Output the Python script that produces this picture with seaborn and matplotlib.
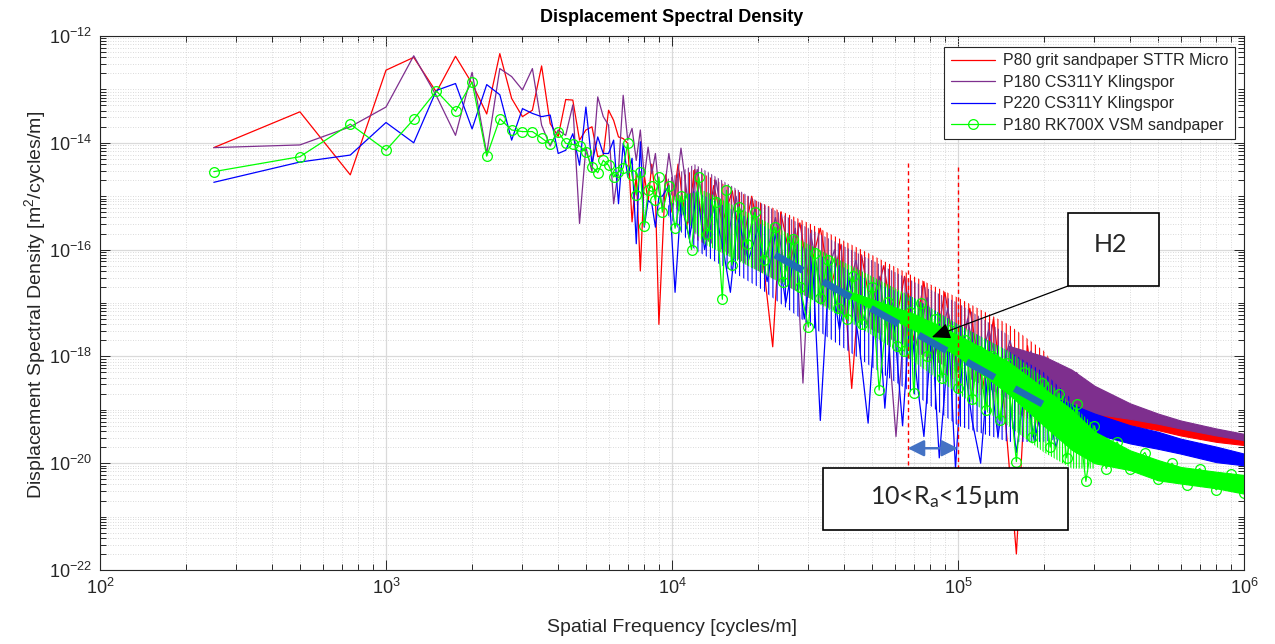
import numpy as np
import matplotlib
matplotlib.use("Agg")
import matplotlib.pyplot as plt
import seaborn as sns
from matplotlib.ticker import FixedLocator, LogLocator, LogFormatterSciNotation, NullFormatter
from matplotlib.patches import Rectangle

# ---------------------------------------------------------------- data
series_names = ["P80 grit sandpaper STTR Micro", "P180 CS311Y Klingspor",
                "P220 CS311Y Klingspor", "P180 RK700X VSM sandpaper"]
series_colors = ["#FF0000", "#7E2F8E", "#0000FF", "#00FF00"]

# low-frequency bins (cycles/m)
freq_low = [250, 500, 750, 1000, 1250, 1500, 1750, 2000, 2250, 2500, 2750, 3000,
            3250, 3500, 3750, 4000, 4250, 4500, 4750, 5000, 5250, 5500, 5750, 6000,
            6250, 6500, 6750, 7000, 7250, 7500, 7750, 8000, 8250, 8500, 8750, 9000]

# log10 of PSD [m^2/cycles/m]
red_low_log = [-14.09, -13.42, -14.60, -12.64, -12.40, -13.05, -12.38, -12.89, -13.46, -12.33,
               -13.17, -13.51, -13.39, -12.56, -13.64, -13.88, -13.19, -13.20, -13.95, -13.76,
               -13.70, -14.26, -14.23, -13.39, -13.58, -13.89, -13.92, -14.01, -15.48, -14.58,
               -16.40, -14.60, -15.10, -14.40, -15.00, -17.40]
purple_low_log = [-14.09, -14.04, -13.70, -13.33, -12.37, -13.12, -13.86, -12.68, -14.20, -12.61,
                  -12.76, -13.01, -12.61, -13.67, -14.06, -13.76, -13.86, -13.29, -15.51, -14.08,
                  -14.54, -13.14, -13.51, -13.67, -15.14, -14.51, -13.11, -13.95, -13.73, -14.33,
                  -13.76, -14.64, -14.08, -14.58, -14.20, -14.90]
blue_low_log = [-14.74, -14.36, -14.23, -13.62, -14.00, -13.02, -12.89, -13.74, -12.91, -13.10,
                -13.95, -13.36, -13.45, -13.51, -13.48, -14.20, -14.14, -13.83, -14.42, -13.33,
                -14.39, -13.89, -14.20, -14.20, -13.95, -15.14, -14.01, -14.64, -14.29, -15.89,
                -13.98, -15.58, -15.08, -15.14, -15.58, -15.01]
green_low_log = [-14.54, -14.26, -13.65, -14.14, -13.56, -13.03, -13.41, -12.86, -14.25, -13.55,
                 -13.76, -13.79, -13.79, -13.91, -14.03, -13.79, -14.01, -14.03, -14.06, -14.17,
                 -14.45, -14.56, -14.33, -14.42, -14.64, -14.54, -14.47, -14.01, -14.61, -14.98,
                 -14.54, -15.56, -14.89, -14.81, -15.08, -14.64]

# higher-frequency peaks / troughs
red_mid_freq = [9500, 10000, 10500, 11250, 12000, 13000, 14000, 15000, 16250, 17500,
                19000, 20500, 22500, 24000, 26000, 28000, 30000, 33000, 36000, 39000,
                42500, 46000, 50000, 55000, 60000, 65000, 70000, 76000, 82000, 90000,
                100000, 110000, 122000, 133000, 145000, 160000, 175000, 190000, 210000, 230000,
                255000, 280000, 310000, 350000, 420000, 500000, 600000, 750000, 1000000]
red_mid_log = [-14.6, -15.3, -14.4, -15.6, -14.5, -15.8, -14.8, -15.5, -14.9, -16.0,
               -15.0, -15.9, -17.82, -15.3, -16.2, -15.5, -16.5, -15.6, -16.7, -15.9,
               -18.6, -16.1, -17.2, -16.3, -17.5, -16.5, -17.7, -16.6, -18.0, -16.8,
               -18.3, -17.1, -18.6, -17.3, -18.9, -21.7, -17.8, -19.3, -18.2, -19.2,
               -18.6, -19.1, -18.9, -19.1, -19.2, -19.3, -19.4, -19.5, -19.6]

purple_mid_freq = [9250, 9750, 10250, 10750, 11500, 12250, 13250, 14250, 15500, 16750,
                   18000, 19500, 21000, 23000, 25000, 27000, 28700, 30500, 33500, 37000,
                   40000, 44000, 48000, 53000, 57000, 60700, 66000, 72000, 78000, 85000,
                   92000, 100000, 108000, 118000, 128000, 140000, 152000, 165000, 180000, 195000,
                   215000, 235000, 260000, 285000, 310000, 335000, 365000, 400000, 450000, 500000,
                   600000, 700000, 850000, 1000000]
purple_mid_log = [-15.2, -14.2, -15.0, -14.1, -15.3, -14.5, -15.6, -14.7, -15.9, -15.0,
                  -16.1, -15.2, -16.3, -15.4, -16.4, -15.6, -18.5, -15.7, -16.8, -16.0,
                  -17.0, -16.2, -17.4, -16.5, -17.6, -19.5, -16.8, -17.8, -16.9, -18.0,
                  -17.1, -18.2, -17.3, -18.3, -17.5, -18.4, -17.7, -18.5, -17.9, -18.6,
                  -18.1, -18.7, -18.3, -18.9, -18.6, -19.0, -18.8, -19.1, -19.0, -19.2,
                  -19.25, -19.4, -19.4, -19.5]

blue_mid_freq = [9250, 9750, 10250, 10750, 11500, 12250, 13000, 14000, 15000, 16000,
                 17000, 18500, 20000, 21500, 23000, 25000, 27000, 29000, 31000, 33000,
                 35500, 38500, 41500, 45000, 48500, 52000, 55500, 59000, 64000, 68000,
                 72000, 76000, 81000, 86000, 93000, 98000, 104000, 112000, 120000, 128000,
                 138000, 148000, 160000, 172000, 185000, 200000, 220000, 240000, 265000, 290000,
                 320000, 360000, 420000, 500000, 600000, 750000, 1000000]
blue_mid_log = [-15.0, -14.8, -16.8, -15.1, -15.8, -14.9, -16.0, -15.2, -15.9, -16.8,
                -15.4, -16.2, -15.6, -16.6, -15.7, -17.0, -16.0, -17.3, -16.2, -19.2,
                -16.3, -17.5, -16.5, -17.7, -19.25, -16.7, -18.97, -17.0, -19.3, -17.2,
                -18.5, -19.5, -17.5, -19.9, -17.7, -20.1, -17.9, -19.2, -20.0, -18.1,
                -19.5, -18.3, -19.8, -18.5, -19.6, -18.7, -19.7, -18.9, -19.5, -19.1,
                -19.4, -19.25, -19.55, -19.5, -19.75, -19.8, -19.95]

green_mid_freq = [9250, 9750, 10250, 10750, 11700, 12400, 13300, 14200, 15000, 15500,
                  16200, 17200, 18300, 19500, 21000, 22900, 24500, 26500, 28000, 30000,
                  31500, 33000, 35000, 38000, 41000, 43000, 46000, 50000, 53000, 57000,
                  61000, 65000, 68000, 70000, 74000, 78000, 83000, 88000, 94000, 100000,
                  106000, 112000, 118000, 125000, 132000, 140000, 148000, 160000, 170000, 182000,
                  197000, 210000, 225000, 240000, 260000, 280000, 300000, 330000, 360000, 400000,
                  450000, 500000, 560000, 630000, 700000, 800000, 900000, 1000000]
green_mid_log = [-15.3, -14.8, -15.6, -15.0, -16.0, -14.64, -15.7, -15.1, -16.93, -14.89,
                 -16.29, -15.2, -15.9, -15.3, -16.2, -15.58, -16.6, -15.8, -16.7, -17.45,
                 -16.07, -16.9, -16.2, -17.1, -17.3, -16.5, -17.4, -16.7, -18.63, -16.98,
                 -17.8, -17.9, -17.17, -18.69, -17.0, -18.0, -17.3, -18.4, -17.5, -18.6,
                 -17.7, -18.8, -17.9, -19.0, -18.0, -19.2, -18.13, -19.97, -18.3, -19.5,
                 -18.5, -19.7, -18.7, -19.9, -18.9, -20.34, -19.3, -20.1, -19.6, -20.1,
                 -19.8, -20.3, -20.0, -20.4, -20.1, -20.5, -20.2, -20.55]

# extent of the dense spikes (log10 upper / lower edge), mid frequencies
red_spread_freq = [9500, 12000, 20000, 30000, 50000, 70000, 100000, 150000, 200000, 250000]
red_spread_hi = [-14.8, -14.5, -15.1, -15.5, -16.1, -16.5, -16.9, -17.4, -17.9, -18.6]
red_spread_lo = [-14.9, -15.8, -16.4, -16.9, -17.5, -17.9, -18.5, -19.0, -19.3, -19.2]
purple_spread_freq = [9500, 12000, 20000, 30000, 50000, 70000, 100000, 150000]
purple_spread_hi = [-14.7, -14.4, -15.1, -15.6, -16.2, -16.6, -17.0, -17.6]
purple_spread_lo = [-14.8, -15.7, -16.4, -16.9, -17.5, -17.9, -18.3, -18.8]
blue_spread_freq = [9500, 12000, 20000, 30000, 50000, 70000, 100000, 150000, 200000, 250000]
blue_spread_hi = [-15.2, -14.9, -15.5, -16.0, -16.6, -16.9, -17.4, -17.9, -18.3, -18.8]
blue_spread_lo = [-15.3, -16.0, -16.7, -17.4, -18.2, -18.7, -19.3, -19.6, -19.6, -19.5]
green_spread_freq = [10000, 13000, 20000, 30000, 50000, 70000, 100000, 150000, 200000, 250000, 300000]
green_spread_hi = [-15.0, -14.9, -15.4, -15.9, -16.5, -16.9, -17.4, -17.9, -18.4, -18.9, -19.3]
green_spread_lo = [-15.1, -15.9, -16.4, -16.9, -17.6, -18.1, -18.7, -19.3, -19.8, -20.1, -20.1]

# solid-looking cores (log10 upper / lower edge), high frequencies
red_band_freq = [250000, 300000, 400000, 500000, 600000, 800000, 1000000]
red_band_hi = [-18.9, -19.0, -19.1, -19.2, -19.29, -19.41, -19.51]
red_band_lo = [-19.1, -19.15, -19.29, -19.38, -19.48, -19.60, -19.66]
purple_band_freq = [150000, 200000, 250000, 300000, 400000, 500000, 600000, 800000, 1000000]
purple_band_hi = [-17.8, -18.0, -18.25, -18.55, -18.88, -19.07, -19.20, -19.35, -19.45]
purple_band_lo = [-18.6, -18.8, -19.0, -19.07, -19.17, -19.26, -19.35, -19.48, -19.57]
blue_band_freq = [200000, 250000, 300000, 400000, 500000, 600000, 800000, 1000000]
blue_band_hi = [-18.7, -18.9, -19.07, -19.29, -19.41, -19.54, -19.69, -19.82]
blue_band_lo = [-19.3, -19.45, -19.45, -19.63, -19.73, -19.82, -19.98, -20.04]
green_band_freq = [40000, 70000, 100000, 150000, 200000, 250000, 300000,
                   400000, 500000, 600000, 800000, 1000000]
green_band_hi = [-16.75, -17.2, -17.6, -18.1, -18.6, -19.0, -19.41,
                 -19.76, -19.94, -20.07, -20.16, -20.22]
green_band_lo = [-16.85, -17.5, -18.0, -18.7, -19.3, -19.75, -20.0,
                 -20.13, -20.32, -20.38, -20.47, -20.57]

# annotations
h2_freq = [22914, 206400]
h2_log = [-16.10, -18.95]
ra_freq = [66667, 100000]
ra_top_log = [-14.38, -14.45]
ra_bottom_log = [-20.03, -21.31]
ra_arrow_log = -19.72
h2_tip = (81000, -17.64)

# ---------------------------------------------------------------- style
sns.set_style("ticks")
plt.rcParams["font.family"] = ["Liberation Sans", "DejaVu Sans"]
plt.rcParams["mathtext.default"] = "regular"
plt.rcParams["axes.unicode_minus"] = False
plt.rcParams["hatch.linewidth"] = 0.8

W, H = 1275, 644
fig = plt.figure(figsize=(W / 100, H / 100), dpi=100)
fig.patch.set_facecolor("white")
L, R, T, B = 100, 1244, 36, 570
ax = fig.add_axes([L / W, 1 - B / H, (R - L) / W, (B - T) / H])
ax.set_facecolor("white")
ax.set_xscale("log")
ax.set_yscale("log")

lows = [red_low_log, purple_low_log, blue_low_log, green_low_log]
mids_f = [red_mid_freq, purple_mid_freq, blue_mid_freq, green_mid_freq]
mids_y = [red_mid_log, purple_mid_log, blue_mid_log, green_mid_log]
spreads = [(red_spread_freq, red_spread_hi, red_spread_lo),
           (purple_spread_freq, purple_spread_hi, purple_spread_lo),
           (blue_spread_freq, blue_spread_hi, blue_spread_lo),
           (green_spread_freq, green_spread_hi, green_spread_lo)]
bands = [(red_band_freq, red_band_hi, red_band_lo),
         (purple_band_freq, purple_band_hi, purple_band_lo),
         (blue_band_freq, blue_band_hi, blue_band_lo),
         (green_band_freq, green_band_hi, green_band_lo)]
hatches = ["||||", "|||||", "||||", "||||||"]

for i, name in enumerate(series_names):
    col = series_colors[i]
    sf, sh, sl = spreads[i]
    ax.fill_between(sf, 10.0 ** np.array(sl), 10.0 ** np.array(sh), facecolor="none",
                    edgecolor=col, hatch=hatches[i], lw=0, zorder=2 + i * 0.1)
    bf, bh, bl = bands[i]
    ax.fill_between(bf, 10.0 ** np.array(bl), 10.0 ** np.array(bh), color=col,
                    lw=0.8, edgecolor=col, zorder=2.02 + i * 0.1)
    x = np.array(freq_low + mids_f[i], dtype=float)
    y = 10.0 ** np.array(lows[i] + mids_y[i])
    kw = dict(color=col, lw=0.9, zorder=2.05 + i * 0.1)
    if i == 3:
        kw.update(marker="o", markerfacecolor="none", markeredgecolor=col,
                  markersize=7, markeredgewidth=0.9)
    sns.lineplot(x=x, y=y, ax=ax, sort=False, estimator=None, label=name, **kw)

# ---- annotations
ax.plot(h2_freq, 10.0 ** np.array(h2_log), color="#1F6EB4", lw=5,
        ls=(0, (4.6, 3.3)), dash_capstyle="butt", zorder=6)
for f, t, b in zip(ra_freq, ra_top_log, ra_bottom_log):
    ax.plot([f, f], [10.0 ** t, 10.0 ** b], color="#FF0000", lw=1.0,
            ls=(0, (3, 2.5)), zorder=6)
ax.annotate("", xy=(ra_freq[1], 10.0 ** ra_arrow_log), xytext=(ra_freq[0], 10.0 ** ra_arrow_log),
            arrowprops=dict(arrowstyle="<|-|>,head_length=0.7,head_width=0.35",
                            color="#4472C4", lw=1.8, mutation_scale=14,
                            shrinkA=0, shrinkB=0), zorder=6)


def axfrac(px, py):
    return ((px - L) / (R - L), (B - py) / (B - T))


# H2 box
x0, y1 = axfrac(1068, 213)
x1, y0 = axfrac(1159, 286)
ax.add_patch(Rectangle((x0, y0), x1 - x0, y1 - y0, transform=ax.transAxes,
                       facecolor="white", edgecolor="black", lw=1.2, zorder=7))
ax.text(*axfrac(1111, 244), "H2", transform=ax.transAxes, ha="center", va="center",
        fontsize=18, family=["Lato", "DejaVu Sans"], zorder=8)
ax.annotate("", xy=(h2_tip[0], 10.0 ** h2_tip[1]), xytext=(x0, y0),
            textcoords="axes fraction",
            arrowprops=dict(arrowstyle="-|>,head_length=0.8,head_width=0.35",
                            color="black", lw=0.9, mutation_scale=14,
                            shrinkA=0, shrinkB=0), zorder=7)

# Ra box
x0, y1 = axfrac(823, 468)
x1, y0 = axfrac(1068, 530)
ax.add_patch(Rectangle((x0, y0), x1 - x0, y1 - y0, transform=ax.transAxes,
                       facecolor="white", edgecolor="black", lw=1.2, zorder=7))
ax.text(*axfrac(945, 497), "10<R$_{a}$<15µm", transform=ax.transAxes, ha="center",
        va="center", fontsize=18, family=["Lato", "DejaVu Sans"], zorder=8)

# ---- axes
ax.set_xlim(1e2, 1e6)
ax.set_ylim(1e-22, 1e-12)
ax.xaxis.set_major_locator(FixedLocator([1e2, 1e3, 1e4, 1e5, 1e6]))
ax.xaxis.set_minor_locator(LogLocator(base=10, subs=np.arange(2, 10), numticks=100))
ax.yaxis.set_major_locator(FixedLocator([1e-22, 1e-20, 1e-18, 1e-16, 1e-14, 1e-12]))
ax.yaxis.set_minor_locator(LogLocator(base=10, subs=np.arange(1, 10), numticks=200))
ax.xaxis.set_major_formatter(LogFormatterSciNotation())
ax.yaxis.set_major_formatter(LogFormatterSciNotation())
ax.xaxis.set_minor_formatter(NullFormatter())
ax.yaxis.set_minor_formatter(NullFormatter())

ax.grid(which="major", color="#DADADA", lw=0.9, ls="-", zorder=0)
ax.grid(which="minor", color="#CFCFCF", lw=0.6, ls=(0, (1, 2)), zorder=0)
ax.set_axisbelow(True)
ax.tick_params(which="both", direction="in", top=True, right=True,
               color="#262626", width=0.7)
ax.tick_params(which="major", length=7, labelsize=13, labelcolor="#262626", pad=6)
ax.tick_params(which="minor", length=4)
for s in ax.spines.values():
    s.set_color("#262626")
    s.set_linewidth(0.8)

ax.set_xlabel("")
ax.set_ylabel("")
fig.text(672 / W, 1 - 627 / H, "Spatial Frequency [cycles/m]", ha="center", va="center",
         fontsize=14, color="#262626")
fig.text(35 / W, 1 - 305 / H, "Displacement Spectral Density [m$^2$/cycles/m]",
         ha="center", va="center", rotation=90, fontsize=14, color="#262626")
fig.text(672 / W, 1 - 17 / H, "Displacement Spectral Density", ha="center", va="center",
         fontsize=13, fontweight="bold", color="black")

leg = ax.legend(loc="upper right", bbox_to_anchor=axfrac(1235, 47), borderaxespad=0,
                frameon=True, fancybox=False, framealpha=1, edgecolor="#262626",
                fontsize=11.5, handlelength=2.8, labelspacing=0.4, borderpad=0.4,
                handletextpad=0.5)
leg.get_frame().set_linewidth(0.8)
leg.set_zorder(9)

fig.savefig("out.png", dpi=100, facecolor="white")
